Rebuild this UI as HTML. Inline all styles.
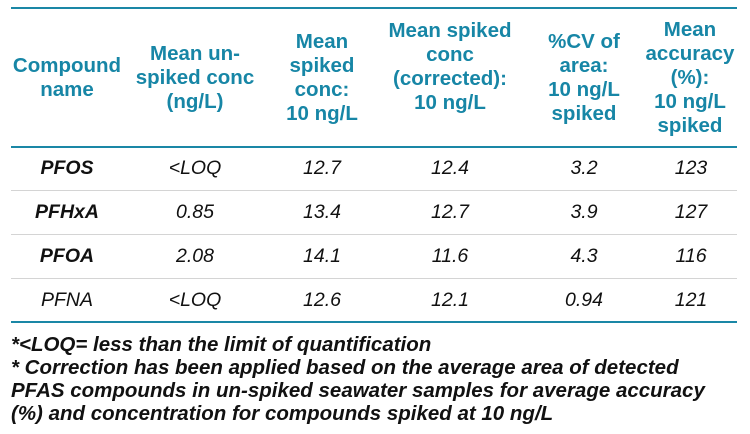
<!DOCTYPE html>
<html><head><meta charset="utf-8"><style>
html,body{margin:0;padding:0;background:#fff;width:750px;height:434px;overflow:hidden;font-family:"Liberation Sans",Arial,sans-serif;}
.ln{position:absolute;left:11px;width:726px;}
.c{position:absolute;display:flex;align-items:center;justify-content:center;text-align:center;}
.h{color:#1786a6;font-weight:bold;font-size:20.5px;line-height:24px;top:8px;height:140px;}
.r{font-style:italic;font-size:19.5px;color:#111;height:43px;}
.b{font-weight:bold;}
.f{position:absolute;left:11px;font-weight:bold;font-style:italic;font-size:20.5px;color:#111;line-height:23px;top:333px;white-space:nowrap;}
</style></head><body>
<div class="ln" style="top:7px;border-top:2px solid #1a87a6"></div>
<div class="ln" style="top:146px;border-top:2px solid #1a87a6"></div>
<div class="ln" style="top:190px;border-top:1.5px solid #d4d4d4"></div>
<div class="ln" style="top:234px;border-top:1.5px solid #d4d4d4"></div>
<div class="ln" style="top:278px;border-top:1.5px solid #d4d4d4"></div>
<div class="ln" style="top:321px;border-top:2px solid #1a87a6"></div>

<div class="c h" style="left:0;width:134px">Compound<br>name</div>
<div class="c h" style="left:130px;width:130px">Mean un-<br>spiked conc<br>(ng/L)</div>
<div class="c h" style="left:260px;width:124px">Mean<br>spiked<br>conc:<br>10 ng/L</div>
<div class="c h" style="left:380px;width:140px;align-items:flex-start;padding-top:11px;height:129px">Mean spiked<br>conc<br>(corrected):<br>10 ng/L</div>
<div class="c h" style="left:526px;width:116px">%CV of<br>area:<br>10 ng/L<br>spiked</div>
<div class="c h" style="left:638px;width:104px">Mean<br>accuracy<br>(%):<br>10 ng/L<br>spiked</div>

<div class="c r b" style="left:0;width:134px;top:147px">PFOS</div>
<div class="c r" style="left:134px;width:122px;top:147px">&lt;LOQ</div>
<div class="c r" style="left:260px;width:124px;top:147px">12.7</div>
<div class="c r" style="left:384px;width:132px;top:147px">12.4</div>
<div class="c r" style="left:526px;width:116px;top:147px">3.2</div>
<div class="c r" style="left:642px;width:98px;top:147px">123</div>

<div class="c r b" style="left:0;width:134px;top:191px">PFHxA</div>
<div class="c r" style="left:134px;width:122px;top:191px">0.85</div>
<div class="c r" style="left:260px;width:124px;top:191px">13.4</div>
<div class="c r" style="left:384px;width:132px;top:191px">12.7</div>
<div class="c r" style="left:526px;width:116px;top:191px">3.9</div>
<div class="c r" style="left:642px;width:98px;top:191px">127</div>

<div class="c r b" style="left:0;width:134px;top:235px">PFOA</div>
<div class="c r" style="left:134px;width:122px;top:235px">2.08</div>
<div class="c r" style="left:260px;width:124px;top:235px">14.1</div>
<div class="c r" style="left:384px;width:132px;top:235px">11.6</div>
<div class="c r" style="left:526px;width:116px;top:235px">4.3</div>
<div class="c r" style="left:642px;width:98px;top:235px">116</div>

<div class="c r" style="left:0;width:134px;top:279px">PFNA</div>
<div class="c r" style="left:134px;width:122px;top:279px">&lt;LOQ</div>
<div class="c r" style="left:260px;width:124px;top:279px">12.6</div>
<div class="c r" style="left:384px;width:132px;top:279px">12.1</div>
<div class="c r" style="left:526px;width:116px;top:279px">0.94</div>
<div class="c r" style="left:642px;width:98px;top:279px">121</div>

<div class="f">*&lt;LOQ= less than the limit of quantification<br>* Correction has been applied based on the average area of detected<br>PFAS compounds in un-spiked seawater samples for average accuracy<br>(%) and concentration for compounds spiked at 10 ng/L</div>
</body></html>
